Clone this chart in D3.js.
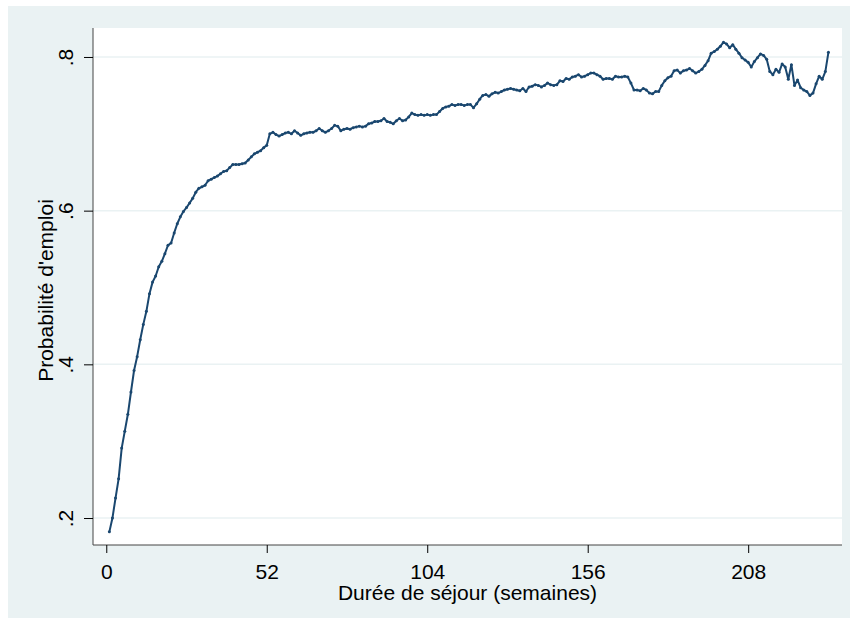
<!DOCTYPE html>
<html>
<head>
<meta charset="utf-8">
<script src="https://cdn.jsdelivr.net/npm/d3@7"></script>
<style>
  body { margin: 0; background: #fff; }
  svg { display: block; font-family: "Liberation Sans", Arial, sans-serif; }
</style>
</head>
<body>
<svg id="chart" width="850" height="625"></svg>
<script>
// weekly employment probability, weeks 1..234
const weeks = d3.range(1, 235);
const probEmploi = [
  0.182, 0.200, 0.226, 0.251, 0.291, 0.313, 0.335, 0.364, 0.392, 0.410,
  0.432, 0.452, 0.469, 0.492, 0.507, 0.515, 0.527, 0.534, 0.544, 0.555,
  0.558, 0.571, 0.583, 0.592, 0.599, 0.604, 0.610, 0.616, 0.624, 0.629,
  0.631, 0.633, 0.639, 0.641, 0.643, 0.645, 0.648, 0.651, 0.652, 0.656,
  0.660, 0.660, 0.660, 0.661, 0.662, 0.666, 0.670, 0.674, 0.676, 0.678,
  0.682, 0.685, 0.700, 0.702, 0.699, 0.697, 0.699, 0.701, 0.702, 0.700,
  0.704, 0.701, 0.698, 0.700, 0.701, 0.702, 0.702, 0.704, 0.707, 0.704,
  0.702, 0.704, 0.707, 0.711, 0.710, 0.704, 0.706, 0.707, 0.706, 0.708,
  0.709, 0.710, 0.709, 0.710, 0.713, 0.714, 0.716, 0.716, 0.717, 0.720,
  0.716, 0.715, 0.713, 0.717, 0.720, 0.717, 0.718, 0.722, 0.727, 0.725,
  0.724, 0.725, 0.724, 0.725, 0.724, 0.725, 0.725, 0.729, 0.733, 0.735,
  0.736, 0.738, 0.737, 0.738, 0.738, 0.737, 0.738, 0.738, 0.734, 0.739,
  0.745, 0.750, 0.751, 0.749, 0.752, 0.754, 0.753, 0.755, 0.757, 0.758,
  0.759, 0.758, 0.757, 0.756, 0.759, 0.755, 0.761, 0.762, 0.764, 0.763,
  0.761, 0.763, 0.766, 0.764, 0.763, 0.764, 0.769, 0.768, 0.772, 0.771,
  0.774, 0.775, 0.777, 0.774, 0.775, 0.777, 0.779, 0.779, 0.777, 0.775,
  0.771, 0.772, 0.772, 0.771, 0.775, 0.774, 0.774, 0.775, 0.774, 0.766,
  0.757, 0.757, 0.756, 0.759, 0.757, 0.753, 0.752, 0.755, 0.755, 0.763,
  0.769, 0.773, 0.775, 0.782, 0.783, 0.779, 0.782, 0.783, 0.785, 0.782,
  0.779, 0.781, 0.784, 0.789, 0.795, 0.805, 0.807, 0.810, 0.814, 0.819,
  0.817, 0.812, 0.816, 0.810, 0.805, 0.799, 0.796, 0.793, 0.787, 0.794,
  0.799, 0.804, 0.802, 0.797, 0.781, 0.777, 0.784, 0.780, 0.791, 0.787,
  0.771, 0.790, 0.763, 0.770, 0.760, 0.757, 0.755, 0.750, 0.753, 0.765,
  0.775, 0.771, 0.781, 0.806
];
const xTicks = [0, 52, 104, 156, 208];
const yTicks = [0.2, 0.4, 0.6, 0.8];
const yTickLabels = [".2", ".4", ".6", ".8"];

const svg = d3.select("#chart");
const lineColor = "#1a476f";
const bgColor = "#eaf2f3";
const fontSize = 21;

// outer background
svg.append("rect")
  .attr("x", 8).attr("y", 6)
  .attr("width", 842).attr("height", 612)
  .attr("fill", bgColor);

const plot = { left: 93, top: 28, right: 842, bottom: 545 };

svg.append("rect")
  .attr("x", plot.left).attr("y", plot.top)
  .attr("width", plot.right - plot.left)
  .attr("height", plot.bottom - plot.top)
  .attr("fill", "#fff");

const x = d3.scaleLinear()
  .domain([-4.3, 238.4])
  .range([plot.left, plot.right]);

const y = d3.scaleLinear()
  .domain([0.1649, 0.8377])
  .range([plot.bottom, plot.top]);

// gridlines
svg.append("g")
  .selectAll("line")
  .data(yTicks)
  .join("line")
  .attr("x1", plot.left).attr("x2", plot.right)
  .attr("y1", (d) => y(d)).attr("y2", (d) => y(d))
  .attr("stroke", bgColor)
  .attr("stroke-width", 1.5);

// line + markers
const line = d3.line()
  .x((d, i) => x(weeks[i]))
  .y((d) => y(d));

svg.append("path")
  .datum(probEmploi)
  .attr("d", line)
  .attr("fill", "none")
  .attr("stroke", lineColor)
  .attr("stroke-width", 2)
  .attr("stroke-linejoin", "round");

svg.append("g")
  .selectAll("circle")
  .data(probEmploi)
  .join("circle")
  .attr("cx", (d, i) => x(weeks[i]))
  .attr("cy", (d) => y(d))
  .attr("r", 1.5)
  .attr("fill", lineColor);

// axes
const xAxis = svg.append("g")
  .attr("transform", `translate(0,${plot.bottom})`)
  .call(d3.axisBottom(x).tickValues(xTicks).tickSize(8).tickPadding(11).tickSizeOuter(0));
xAxis.select(".domain")
  .attr("d", `M${plot.left},0H${plot.right}`)
  .attr("stroke", "#444");
xAxis.selectAll("text")
  .attr("font-size", fontSize)
  .attr("fill", "#000");

const yAxis = svg.append("g")
  .attr("transform", `translate(${plot.left},0)`)
  .call(d3.axisLeft(y).tickValues(yTicks).tickSize(9).tickSizeOuter(0)
    .tickFormat((d, i) => yTickLabels[i]));
yAxis.select(".domain")
  .attr("d", `M0,${plot.top}V${plot.bottom}`)
  .attr("stroke", "#444");
yAxis.selectAll("text")
  .attr("font-size", fontSize)
  .attr("fill", "#000")
  .attr("text-anchor", "middle")
  .attr("dy", null)
  .attr("x", null)
  .attr("transform", "translate(-26,0) rotate(-90)")
  .attr("dominant-baseline", "middle");

// axis titles
svg.append("text")
  .attr("x", (plot.left + plot.right) / 2)
  .attr("y", 600)
  .attr("text-anchor", "middle")
  .attr("font-size", fontSize)
  .text("Durée de séjour (semaines)");

svg.append("text")
  .attr("transform", `translate(53,${(plot.top + plot.bottom) / 2 + 4}) rotate(-90)`)
  .attr("text-anchor", "middle")
  .attr("font-size", fontSize)
  .text("Probabilité d'emploi");
</script>
</body>
</html>
